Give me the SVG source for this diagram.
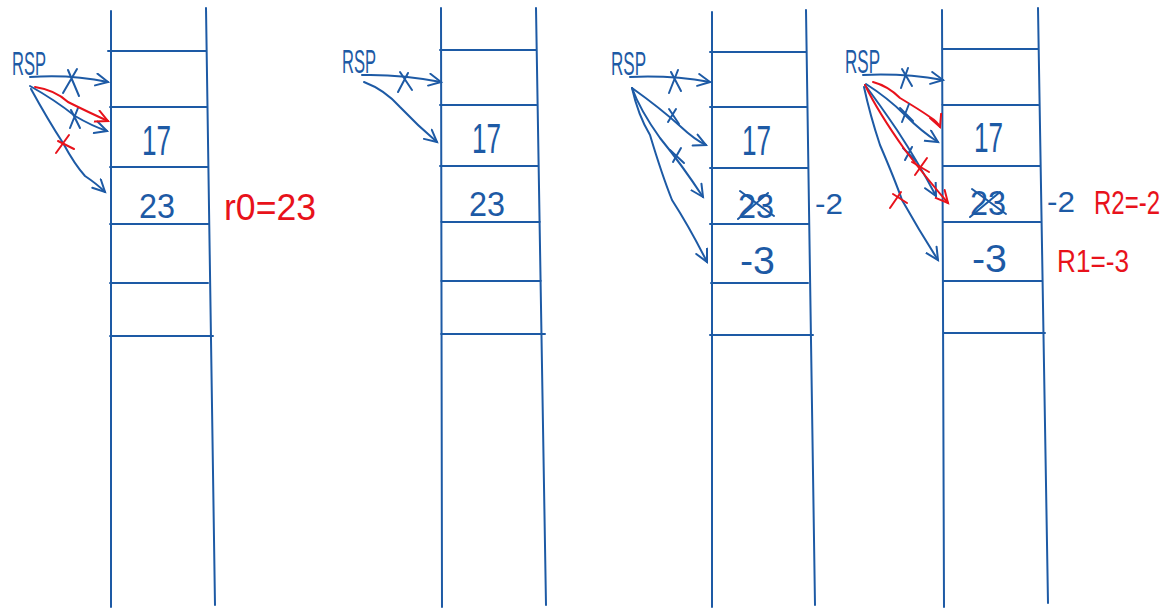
<svg xmlns="http://www.w3.org/2000/svg" width="1168" height="608" viewBox="0 0 1168 608">
<style>
.b{stroke:#1d5aa5;stroke-width:2;fill:none;stroke-linecap:round;stroke-linejoin:round}
.r{stroke:#e8121b;stroke-width:2;fill:none;stroke-linecap:round;stroke-linejoin:round}
.tb{fill:#1d5aa5;font-family:"Liberation Sans",Arial,sans-serif}
.tr{fill:#e8121b;font-family:"Liberation Sans",Arial,sans-serif}
.rsp{font-size:34px}
.n17{font-size:42px}
.n23{font-size:35px}
</style>
<defs>
<marker id="ab" markerUnits="userSpaceOnUse" markerWidth="16" markerHeight="16" refX="13" refY="7" orient="auto"><path d="M1,1 L13,7 L1,13" stroke="#1d5aa5" stroke-width="2" fill="none" stroke-linecap="round"/></marker>
<marker id="ar" markerUnits="userSpaceOnUse" markerWidth="16" markerHeight="16" refX="13" refY="7" orient="auto"><path d="M1,1 L13,7 L1,13" stroke="#e8121b" stroke-width="2" fill="none" stroke-linecap="round"/></marker>
</defs>
<rect width="1168" height="608" fill="#fff"/>

<!-- Stack 1 -->
<g id="stack1">
<path class="b" d="M111,11 L111,607 M206,8 L215,605 M108,51 L206,51 M110,107 L206,107 M110,167 L207,167 M110,224 L208,224 M110,283 L208,283 M110,336 L213,336"/>
<text class="tb rsp" x="12" y="75" textLength="34" lengthAdjust="spacingAndGlyphs">RSP</text>
<text class="tb n17" x="142" y="155" textLength="29" lengthAdjust="spacingAndGlyphs">17</text>
<text class="tb n23" x="139" y="218" textLength="36" lengthAdjust="spacingAndGlyphs">23</text>
<text class="tr" x="224" y="220" font-size="37" textLength="92" lengthAdjust="spacingAndGlyphs">r0=23</text>
</g>

<!-- Stack 2 -->
<g id="stack2">
<path class="b" d="M441,8 L442,607 M536,8 L546,605 M440,50 L536,50 M440,105 L536,105 M440,166 L538,166 M441,222 L540,222 M441,281 L541,281 M441,334 L545,334"/>
<text class="tb rsp" x="342" y="73" textLength="34" lengthAdjust="spacingAndGlyphs">RSP</text>
<text class="tb n17" x="472" y="153" textLength="29" lengthAdjust="spacingAndGlyphs">17</text>
<text class="tb n23" x="469" y="216" textLength="36" lengthAdjust="spacingAndGlyphs">23</text>
</g>

<!-- Stack 3 -->
<g id="stack3">
<path class="b" d="M712,12 L712,607 M806,10 L815,605 M710,52 L806,52 M710,107 L806,107 M710,168 L808,168 M710,224 L808,224 M711,283 L808,283 M710,335 L813,335"/>
<text class="tb rsp" x="611" y="75" textLength="35" lengthAdjust="spacingAndGlyphs">RSP</text>
<text class="tb n17" x="742" y="155" textLength="29" lengthAdjust="spacingAndGlyphs">17</text>
<text class="tb n23" x="738" y="218" textLength="36" lengthAdjust="spacingAndGlyphs">23</text>
<path class="b" d="M738,219 L768,193 M740,191 L774,216"/>
<text class="tb" x="815" y="214" font-size="30" textLength="28" lengthAdjust="spacingAndGlyphs">-2</text>
<text class="tb" x="740" y="274" font-size="38" textLength="35" lengthAdjust="spacingAndGlyphs">-3</text>
</g>

<!-- Stack 4 -->
<g id="stack4">
<path class="b" d="M942,10 L944,607 M1038,8 L1048,603 M942,49 L1038,49 M942,105 L1038,105 M943,166 L1040,166 M943,222 L1040,222 M943,281 L1042,281 M943,333 L1045,333"/>
<text class="tb rsp" x="845" y="73" textLength="35" lengthAdjust="spacingAndGlyphs">RSP</text>
<text class="tb n17" x="974" y="152" textLength="29" lengthAdjust="spacingAndGlyphs">17</text>
<text class="tb n23" x="970" y="215" textLength="36" lengthAdjust="spacingAndGlyphs">23</text>
<path class="b" d="M970,217 L1000,192 M972,189 L1006,214"/>
<text class="tb" x="1047" y="212" font-size="30" textLength="28" lengthAdjust="spacingAndGlyphs">-2</text>
<text class="tr" transform="translate(1094,214) scale(1,1.3)" x="0" y="0" font-size="26" textLength="66" lengthAdjust="spacingAndGlyphs">R2=-2</text>
<text class="tb" x="972" y="272" font-size="38" textLength="35" lengthAdjust="spacingAndGlyphs">-3</text>
<text class="tr" x="1057" y="272" font-size="31" textLength="72" lengthAdjust="spacingAndGlyphs">R1=-3</text>
</g>

<!-- Connectors -->
<g id="connectors">
<!-- stack 1 -->
<path class="b" marker-end="url(#ab)" d="M30,77 Q70,74 108,82"/>
<path class="b" d="M63,93 L77,69 M68,70 L79,96"/>
<path class="b" marker-end="url(#ab)" d="M30,86 Q55,100 75,116 Q92,126 107,131"/>
<path class="b" d="M70,128 L78,108 M71,110 L80,128"/>
<path class="r" marker-end="url(#ar)" d="M35,87 Q55,90 68,102 Q90,113 108,121"/>
<path class="b" marker-end="url(#ab)" d="M31,89 Q48,120 63,143 Q75,165 85,176 Q97,184 105,192"/>
<path class="r" d="M56,153 L69,135 M58,141 L74,149"/>
<!-- stack 2 -->
<path class="b" marker-end="url(#ab)" d="M362,75 Q400,74 441,82"/>
<path class="b" d="M398,92 L408,73 M400,72 L412,90"/>
<path class="b" marker-end="url(#ab)" d="M364,82 Q385,90 400,107 Q418,126 437,142"/>
<!-- stack 3 -->
<path class="b" marker-end="url(#ab)" d="M630,77 Q670,75 710,82"/>
<path class="b" d="M669,93 L678,70 M671,72 L681,91"/>
<path class="b" marker-end="url(#ab)" d="M632,88 Q660,108 680,126 Q695,140 706,145"/>
<path class="b" d="M668,122 L676,109 M669,109 L679,124"/>
<path class="b" marker-end="url(#ab)" d="M632,88 Q640,110 660,138 Q682,165 703,197"/>
<path class="b" d="M673,162 L681,148 M670,150 L684,163"/>
<path class="b" marker-end="url(#ab)" d="M632,88 Q638,115 650,135 Q662,175 672,200 Q690,228 707,262"/>
<!-- stack 4 -->
<path class="b" marker-end="url(#ab)" d="M863,75 Q903,73 943,80"/>
<path class="b" d="M901,88 L908,68 M902,69 L912,86"/>
<path class="r" marker-end="url(#ar)" d="M873,82 Q888,86 900,98 Q920,110 930,117 Q938,122 940,127"/>
<path class="b" marker-end="url(#ab)" d="M866,84 Q888,98 905,115 Q922,132 938,142"/>
<path class="b" d="M902,122 L909,104 M900,108 L913,121"/>
<path class="b" marker-end="url(#ab)" d="M865,85 Q880,105 897,130 Q918,162 936,196"/>
<path class="b" d="M905,160 L912,147 M903,148 L916,161"/>
<path class="r" marker-end="url(#ar)" d="M865,85 Q878,112 905,150 Q928,180 948,203"/>
<path class="r" d="M915,175 L927,158 M912,162 L929,172"/>
<path class="b" marker-end="url(#ab)" d="M864,87 Q870,115 880,145 Q895,180 902,200 Q920,232 938,260"/>
<path class="r" d="M890,208 L901,192 M893,194 L907,203"/>
</g>
</svg>
